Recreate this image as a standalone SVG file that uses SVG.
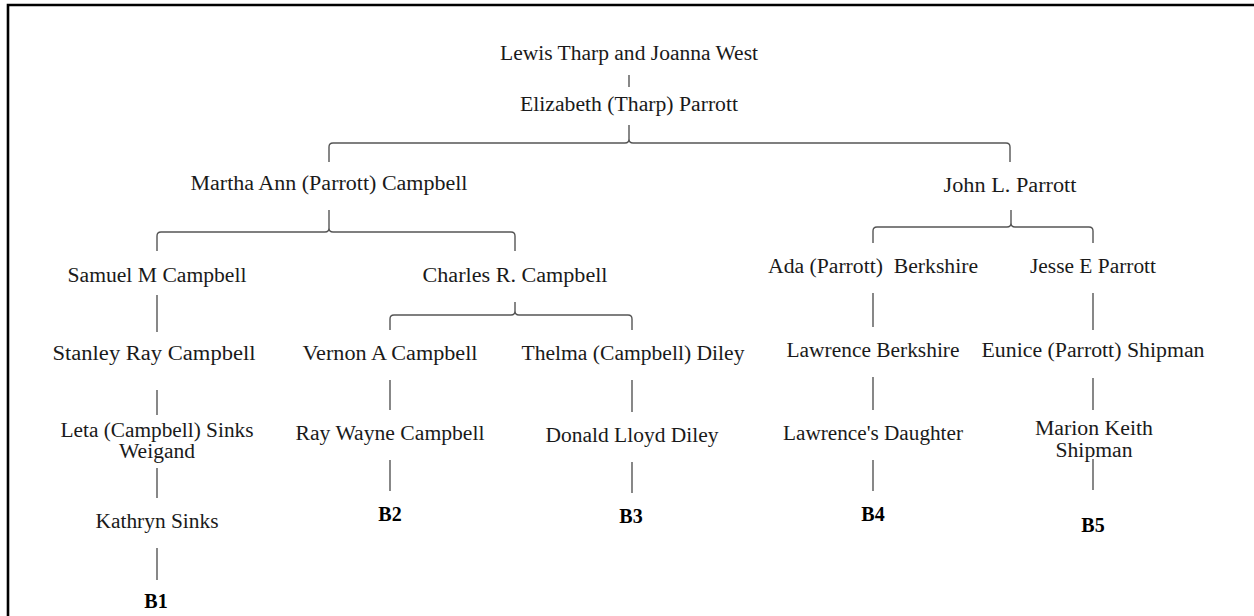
<svg xmlns="http://www.w3.org/2000/svg" width="1254" height="616" viewBox="0 0 1254 616">
<style>
text{font-family:"Liberation Serif","DejaVu Serif",serif;font-size:20px;fill:#1a1a1a;text-anchor:middle}
.b{font-weight:bold;font-size:20px;fill:#000}
.c{fill:none;stroke:#555;stroke-width:1.4}
.frame{fill:none;stroke:#000;stroke-width:2.6}
</style>
<rect width="1254" height="616" fill="#fff"/>
<path class="frame" d="M8,616 L8,5 L1254,5"/>
<g id="connectors">
<line class="c" x1="629" y1="75" x2="629" y2="87"/>
<path class="c" d="M629,125 L629,139 M329,162 L329,147 Q329,143 333,143 L625,143 Q629,143 629,139 Q629,143 633,143 L1006,143 Q1010,143 1010,147 L1010,162"/>
<path class="c" d="M329,210 L329,228 M157,251 L157,236 Q157,232 161,232 L325,232 Q329,232 329,228 Q329,232 333,232 L511,232 Q515,232 515,236 L515,251"/>
<path class="c" d="M1011,210 L1011,223 M873,243 L873,231 Q873,227 877,227 L1007,227 Q1011,227 1011,223 Q1011,227 1015,227 L1089,227 Q1093,227 1093,231 L1093,243"/>
<path class="c" d="M515,302 L515,311 M390,330 L390,319 Q390,315 394,315 L511,315 Q515,315 515,311 Q515,315 519,315 L628,315 Q632,315 632,319 L632,330"/>
<line class="c" x1="157" y1="295" x2="157" y2="332"/>
<line class="c" x1="157" y1="390" x2="157" y2="415"/>
<line class="c" x1="157" y1="468" x2="157" y2="498"/>
<line class="c" x1="157" y1="548" x2="157" y2="580"/>
<line class="c" x1="390" y1="380" x2="390" y2="410"/>
<line class="c" x1="390" y1="460" x2="390" y2="491"/>
<line class="c" x1="632" y1="380" x2="632" y2="412"/>
<line class="c" x1="632" y1="462" x2="632" y2="493"/>
<line class="c" x1="873" y1="293" x2="873" y2="327"/>
<line class="c" x1="873" y1="377" x2="873" y2="410"/>
<line class="c" x1="873" y1="460" x2="873" y2="491"/>
<line class="c" x1="1093" y1="293" x2="1093" y2="330"/>
<line class="c" x1="1093" y1="378" x2="1093" y2="410"/>
<line class="c" x1="1093" y1="459" x2="1093" y2="490"/>
</g>
<g id="n-lewis"><text x="629" y="60" textLength="258" lengthAdjust="spacingAndGlyphs">Lewis Tharp and Joanna West</text></g>
<g id="n-elizabeth"><text x="629" y="111" textLength="218" lengthAdjust="spacingAndGlyphs">Elizabeth (Tharp) Parrott</text></g>
<g id="n-martha"><text x="329" y="190" textLength="277" lengthAdjust="spacingAndGlyphs">Martha Ann (Parrott) Campbell</text></g>
<g id="n-john"><text x="1010" y="192" textLength="133" lengthAdjust="spacingAndGlyphs">John L. Parrott</text></g>
<g id="n-samuel"><text x="157" y="282" textLength="179" lengthAdjust="spacingAndGlyphs">Samuel M Campbell</text></g>
<g id="n-charles"><text x="515" y="282" textLength="185" lengthAdjust="spacingAndGlyphs">Charles R. Campbell</text></g>
<g id="n-ada"><text x="873" y="273" textLength="210" lengthAdjust="spacingAndGlyphs" xml:space="preserve">Ada (Parrott)  Berkshire</text></g>
<g id="n-jesse"><text x="1093" y="273" textLength="126" lengthAdjust="spacingAndGlyphs">Jesse E Parrott</text></g>
<g id="n-stanley"><text x="154" y="360" textLength="203" lengthAdjust="spacingAndGlyphs">Stanley Ray Campbell</text></g>
<g id="n-vernon"><text x="390" y="360" textLength="175" lengthAdjust="spacingAndGlyphs">Vernon A Campbell</text></g>
<g id="n-thelma"><text x="633" y="360" textLength="223" lengthAdjust="spacingAndGlyphs">Thelma (Campbell) Diley</text></g>
<g id="n-lawrence"><text x="873" y="357" textLength="173" lengthAdjust="spacingAndGlyphs">Lawrence Berkshire</text></g>
<g id="n-eunice"><text x="1093" y="357" textLength="223" lengthAdjust="spacingAndGlyphs">Eunice (Parrott) Shipman</text></g>
<g id="n-leta"><text x="157" y="437" textLength="193" lengthAdjust="spacingAndGlyphs">Leta (Campbell) Sinks</text><text x="157" y="458" textLength="76" lengthAdjust="spacingAndGlyphs">Weigand</text></g>
<g id="n-ray"><text x="390" y="440" textLength="189" lengthAdjust="spacingAndGlyphs">Ray Wayne Campbell</text></g>
<g id="n-donald"><text x="632" y="442" textLength="173" lengthAdjust="spacingAndGlyphs">Donald Lloyd Diley</text></g>
<g id="n-daughter"><text x="873" y="440" textLength="180" lengthAdjust="spacingAndGlyphs">Lawrence's Daughter</text></g>
<g id="n-marion"><text x="1094" y="435" textLength="118" lengthAdjust="spacingAndGlyphs">Marion Keith</text><text x="1094" y="457" textLength="77" lengthAdjust="spacingAndGlyphs">Shipman</text></g>
<g id="n-kathryn"><text x="157" y="528" textLength="123" lengthAdjust="spacingAndGlyphs">Kathryn Sinks</text></g>
<g id="n-b1"><text class="b" x="156" y="608">B1</text></g>
<g id="n-b2"><text class="b" x="390" y="521">B2</text></g>
<g id="n-b3"><text class="b" x="631" y="523">B3</text></g>
<g id="n-b4"><text class="b" x="873" y="521">B4</text></g>
<g id="n-b5"><text class="b" x="1093" y="532">B5</text></g>
</svg>
